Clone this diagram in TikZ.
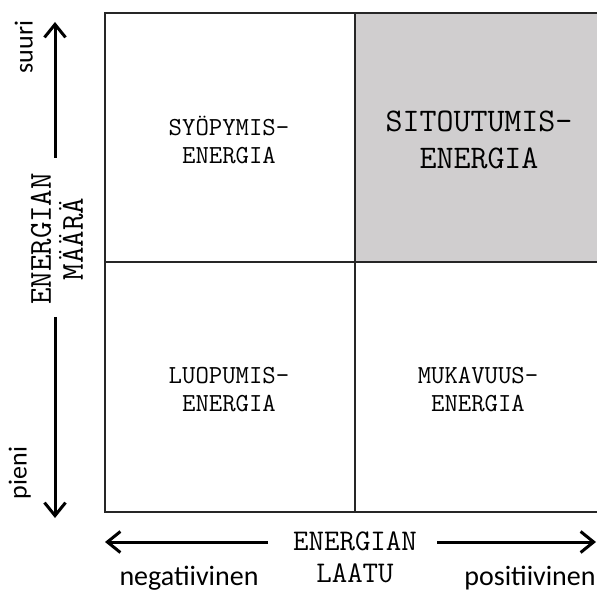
\documentclass[tikz,border=0pt]{standalone}
\usepackage{fontspec}
\newfontfamily\sidefont{Carlito}
\usetikzlibrary{arrows.meta}
\definecolor{cellgray}{RGB}{208,206,207}
\begin{document}
\begin{tikzpicture}[x=1pt,y=-1pt,
  gridline/.style={draw=black!85, line width=1.4pt},
  axisarrow/.style={line width=3pt, -{Straight Barb[length=13pt,width=21pt,line width=3pt]}},
  cellsmall/.style={align=center, inner sep=0pt, font=\ttfamily\fontsize{26}{28}\selectfont},
  cellbig/.style={align=center, inner sep=0pt, font=\ttfamily\fontsize{33}{37}\selectfont},
  axistitle/.style={align=center, inner sep=0pt, font=\ttfamily\fontsize{30}{32}\selectfont},
  endlabel/.style={inner sep=0pt, font=\sidefont\fontsize{26}{30}\selectfont}]
\useasboundingbox (0,0) rectangle (597,593);
\begin{scope}
\clip (0,0) rectangle (597,593);
% four cells of the energy matrix
\fill[cellgray] (355,13) rectangle (605,262);
\draw[gridline] (105,13) rectangle (605,512);
\draw[gridline] (355,13) -- (355,512);
\draw[gridline] (105,262) -- (605,262);

% cell titles
\node[cellsmall] (syo) at (229,140) {SYÖPYMIS-\\ENERGIA};
\node[cellbig]   (sit) at (479,140) {SITOUTUMIS-\\ENERGIA};
\node[cellsmall] (luo) at (229,390) {LUOPUMIS-\\ENERGIA};
\node[cellsmall] (muk) at (478,390) {MUKAVUUS-\\ENERGIA};

% vertical axis: amount of energy
\node[axistitle, font=\ttfamily\fontsize{32}{32}\selectfont, rotate=90] (maara) at (57,239) {ENERGIAN\\MÄÄRÄ};
\coordinate (vtop) at (55,22);
\coordinate (vup) at (55,158);
\coordinate (vlow) at (55,317);
\coordinate (vbot) at (55,518);
\draw[axisarrow] (vup) -- (vtop);
\draw[axisarrow] (vlow) -- (vbot);
\node[endlabel, rotate=90, anchor=south] (suuri) at (33,47) {suuri};
\node[endlabel, rotate=90, anchor=south] (pieni) at (31,473) {pieni};

% horizontal axis: quality of energy
\node[axistitle] (laatu) at (355,557) {ENERGIAN\\LAATU};
\coordinate (hleft) at (105,542);
\coordinate (hl) at (268,542);
\coordinate (hr) at (437,542);
\coordinate (hright) at (596,542);
\draw[axisarrow] (hl) -- (hleft);
\draw[axisarrow] (hr) -- (hright);
\node[endlabel, anchor=base, font=\sidefont\fontsize{28}{30}\selectfont] (neg) at (189,585) {negatiivinen};
\node[endlabel, anchor=base, font=\sidefont\fontsize{28}{30}\selectfont] (pos) at (530,585) {positiivinen};
\end{scope}
\end{tikzpicture}
\end{document}
